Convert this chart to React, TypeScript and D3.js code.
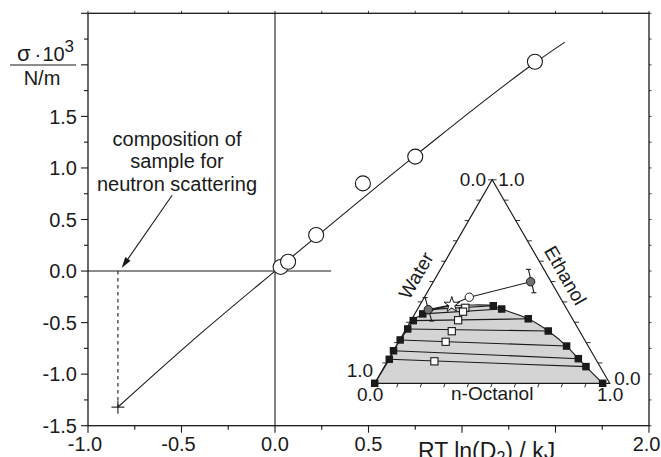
import React from "react";
import * as d3 from "d3";

const W = 661;
const H = 457;
const FONT = "'Liberation Sans', Arial, Helvetica, sans-serif";
const INK = "#1a1a1a";

// ---- main chart data ----
const surfX = [0.03, 0.07, 0.22, 0.47, 0.75, 1.39];
const surfY = [0.04, 0.09, 0.35, 0.85, 1.11, 2.03];
const fitX = [-0.84, -0.4, 0, 0.75, 1.39, 1.55];
const fitY = [-1.32, -0.61, 0, 1.12, 2.02, 2.22];
const sampleX = -0.84;
const sampleY = -1.32;
const xTickVals = [-1, -0.5, 0, 0.5, 2];
const xTickLabels = ["-1.0", "-0.5", "0.0", "0.5", "2.0"];
const yTickVals = [-1.5, -1, -0.5, 0, 0.5, 1, 1.5];
const yTickLabels = ["-1.5", "-1.0", "-0.5", "0.0", "0.5", "1.0", "1.5"];
const annotationLines = ["composition of", "sample for", "neutron scattering"];
const arrowTail = [-0.55, 0.735];
const arrowTip = [-0.82, 0.03];
const zeroLineEnd = 0.3;

// ---- ternary inset data (o = n-octanol fraction, e = ethanol fraction) ----
const leftBranchO = [0, 0.003, 0, 0.002, 0.007, 0.01, 0.034];
const leftBranchE = [0, 0.118, 0.16, 0.213, 0.267, 0.308, 0.341];
const topCurveO = [0.12, 0.22];
const topCurveE = [0.378, 0.385];
const rightBranchO = [0.314, 0.358, 0.495, 0.61, 0.725, 0.806, 0.858, 0.97];
const rightBranchE = [0.381, 0.365, 0.317, 0.257, 0.183, 0.121, 0.082, 0.0];

const tieLeftO = [0.047, 0.034, 0.01, 0.007, 0.002, 0.0, 0.003];
const tieLeftE = [0.362, 0.341, 0.308, 0.267, 0.213, 0.16, 0.118];
const tieRightO = [0.314, 0.358, 0.495, 0.61, 0.725, 0.806, 0.858];
const tieRightE = [0.381, 0.365, 0.317, 0.257, 0.183, 0.121, 0.082];

const feedO = [0.2, 0.2, 0.2, 0.2, 0.2, 0.2];
const feedE = [0.371, 0.352, 0.31, 0.256, 0.204, 0.108];

const greyO = [0.047, 0.414];
const greyE = [0.362, 0.499];
const errTopO = [0.004, 0.374];
const errTopE = [0.421, 0.56];
const errBotO = [0.09, 0.455];
const errBotE = [0.306, 0.445];
const openCircleO = 0.191;
const openCircleE = 0.423;
const starO = 0.135;
const starE = 0.386;
const pathO = [0.414, 0.191, 0.135, 0.047];
const pathE = [0.499, 0.423, 0.386, 0.362];

export default function App() {
  const x = d3.scaleLinear().domain([-1, 2]).range([88, 649]);
  const y = d3.scaleLinear().domain([-1.5, 2.5]).range([425.7, 13.3]);
  const tx = d3.scaleLinear().domain([0, 1]).range([374.7, 609.7]);
  const ty = d3.scaleLinear().domain([0, 1]).range([383.3, 179.8]);
  const P = (o: number, e: number): [number, number] => [tx(o + e / 2), ty(e)];

  const [x0, x1] = x.range();
  const [y0, y1] = y.range();

  const fitLine = d3
    .line<number>()
    .x((_, i) => x(fitX[i]))
    .y((_, i) => y(fitY[i]))
    .curve(d3.curveMonotoneX)(fitX);

  const xMinor = d3.range(-1, 2.001, 0.25);
  const yMinor = d3.range(-1.5, 2.501, 0.25);
  const isMajor = (v: number) => Math.abs(v * 2 - Math.round(v * 2)) < 1e-6;

  // arrow
  const ax0 = x(arrowTail[0]);
  const ay0 = y(arrowTail[1]);
  const ax1 = x(arrowTip[0]);
  const ay1 = y(arrowTip[1]);
  const ang = Math.atan2(ay1 - ay0, ax1 - ax0);
  const hl = 11;
  const hw = 3.2;
  const bx = ax1 - hl * Math.cos(ang);
  const by = ay1 - hl * Math.sin(ang);
  const head = `M${ax1},${ay1}L${bx - hw * Math.sin(ang)},${by + hw * Math.cos(ang)}L${bx + hw * Math.sin(ang)},${by - hw * Math.cos(ang)}Z`;

  // ternary
  const binodalPts: [number, number][] = [
    ...leftBranchO.map((o, i) => P(o, leftBranchE[i])),
    ...topCurveO.map((o, i) => P(o, topCurveE[i])),
    ...rightBranchO.map((o, i) => P(o, rightBranchE[i])),
  ];
  const binodal = d3.line().curve(d3.curveCatmullRom.alpha(0.5))(binodalPts) as string;
  const A = P(0, 1);
  const BL = P(0, 0);
  const BR = P(1, 0);
  const tern = d3.range(0.1, 1.001, 0.1);
  const star = d3.symbol(d3.symbolStar, 75)() as string;
  const pathLine = d3.line()(pathO.map((o, i) => P(o, pathE[i]))) as string;
  const sq = 7.5;

  const waterPos = P(0.0, 0.53);
  const ethPos = P(0.47, 0.53);

  return (
    <svg
      width={W}
      height={H}
      viewBox={`0 0 ${W} ${H}`}
      style={{ position: "absolute", left: 0, top: 0, background: "#fff" }}
      fontFamily={FONT}
    >
      <rect x={0} y={0} width={W} height={H} fill="#fff" />

      {/* zero lines */}
      <line x1={x(0)} x2={x(0)} y1={y1} y2={y0} stroke={INK} strokeWidth={1.1} />
      <line x1={x0} x2={x(zeroLineEnd)} y1={y(0)} y2={y(0)} stroke={INK} strokeWidth={1.1} />

      {/* dotted guide */}
      <line
        x1={x(sampleX)}
        x2={x(sampleX)}
        y1={y(0)}
        y2={y(sampleY)}
        stroke={INK}
        strokeWidth={1.1}
        strokeDasharray="3.5,3.5"
      />

      {/* fit line */}
      <path d={fitLine as string} fill="none" stroke={INK} strokeWidth={1.1} />

      {/* cross */}
      <g stroke={INK} strokeWidth={1.1}>
        <line x1={x(sampleX) - 6.5} x2={x(sampleX) + 6.5} y1={y(sampleY)} y2={y(sampleY)} />
        <line x1={x(sampleX)} x2={x(sampleX)} y1={y(sampleY) - 6.5} y2={y(sampleY) + 6.5} />
      </g>

      {/* data circles */}
      {surfX.map((v, i) => (
        <circle key={i} cx={x(v)} cy={y(surfY[i])} r={7.5} fill="#fff" stroke={INK} strokeWidth={1.1} />
      ))}

      {/* annotation */}
      {annotationLines.map((t, i) => (
        <text key={i} x={177} y={146 + i * 22.3} textAnchor="middle" fontSize={20} fill={INK}>
          {t}
        </text>
      ))}
      <line x1={ax0} y1={ay0} x2={bx} y2={by} stroke={INK} strokeWidth={1.1} />
      <path d={head} fill={INK} />

      {/* frame */}
      <rect x={x0} y={y1} width={x1 - x0} height={y0 - y1} fill="none" stroke={INK} strokeWidth={1.3} />

      {/* bottom ticks */}
      {xMinor.map((v, i) => (
        <line key={"bx" + i} x1={x(v)} x2={x(v)} y1={y0} y2={y0 + (isMajor(v) ? 7 : 4)} stroke={INK} strokeWidth={1.1} />
      ))}
      {/* top ticks */}
      {xMinor.map((v, i) => (
        <line key={"tx" + i} x1={x(v)} x2={x(v)} y1={y1} y2={y1 - 2.5} stroke={INK} strokeWidth={0.8} />
      ))}
      {/* left ticks */}
      {yMinor.map((v, i) => (
        <line key={"ly" + i} x1={x0} x2={x0 - (isMajor(v) ? 7 : 4)} y1={y(v)} y2={y(v)} stroke={INK} strokeWidth={1.1} />
      ))}
      {/* right ticks */}
      {yMinor.map((v, i) => (
        <line key={"ry" + i} x1={x1} x2={x1 + 2.5} y1={y(v)} y2={y(v)} stroke={INK} strokeWidth={0.8} />
      ))}

      {/* tick labels */}
      {xTickVals.map((v, i) => {
        const last = i === xTickVals.length - 1;
        return (
          <text
            key={"xl" + i}
            x={last ? W - 0.5 : x(v) + (v < 0 ? -3 : 0)}
            y={450.5}
            textAnchor={last ? "end" : "middle"}
            fontSize={20}
            fill={INK}
          >
            {xTickLabels[i]}
          </text>
        );
      })}
      {yTickVals.map((v, i) => (
        <text key={"yl" + i} x={77} y={y(v) + 7.2} textAnchor="end" fontSize={20} fill={INK}>
          {yTickLabels[i]}
        </text>
      ))}

      {/* axis titles */}
      <text x={418} y={459} fontSize={23} fill={INK}>
        RT ln(D<tspan fontSize={16} dy={4}>2</tspan>
        <tspan dy={-4}>) / kJ</tspan>
      </text>
      <text fontSize={20} fill={INK} y={61}>
        <tspan x={17} fontSize={22}>σ</tspan>
        <tspan x={34.5}>·</tspan>
        <tspan x={42.5}>10</tspan>
        <tspan x={64.5} dy={-9.5} fontSize={17}>3</tspan>
      </text>
      <line x1={10} x2={76} y1={65} y2={65} stroke={INK} strokeWidth={1.2} />
      <text x={42} y={85} textAnchor="middle" fontSize={20} fill={INK}>
        N/m
      </text>

      {/* ===== ternary inset ===== */}
      <path d={binodal + "Z"} fill="#d4d4d4" stroke="none" />
      {tieLeftO.map((o, i) => {
        const a = P(o, tieLeftE[i]);
        const b = P(tieRightO[i], tieRightE[i]);
        return <line key={"tie" + i} x1={a[0]} y1={a[1]} x2={b[0]} y2={b[1]} stroke={INK} strokeWidth={1.1} />;
      })}
      <path d={binodal} fill="none" stroke={INK} strokeWidth={1.1} />
      <path
        d={`M${BL[0]},${BL[1]}L${BR[0]},${BR[1]}L${A[0]},${A[1]}Z`}
        fill="none"
        stroke={INK}
        strokeWidth={1.2}
      />
      {/* ternary ticks */}
      {tern.slice(0, 9).map((v, i) => {
        const p = P(v, 0);
        return <line key={"tb" + i} x1={p[0]} x2={p[0] - 1.5} y1={p[1]} y2={p[1] + 4} stroke={INK} strokeWidth={0.9} />;
      })}
      {tern.map((v, i) => {
        const p = P(1 - v, v);
        return <line key={"tr" + i} x1={p[0]} x2={p[0] + 4.5} y1={p[1]} y2={p[1]} stroke={INK} strokeWidth={0.9} />;
      })}
      {tern.map((v, i) => {
        const p = P(0, v);
        return <line key={"tl" + i} x1={p[0]} x2={p[0] - 4} y1={p[1]} y2={p[1]} stroke={INK} strokeWidth={0.9} />;
      })}

      {/* connecting path and error bars */}
      <path d={pathLine} fill="none" stroke={INK} strokeWidth={1.1} />
      {greyO.map((o, i) => {
        const t = P(errTopO[i], errTopE[i]);
        const b = P(errBotO[i], errBotE[i]);
        return (
          <g key={"eb" + i} stroke={INK} strokeWidth={1.1}>
            <line x1={t[0]} y1={t[1]} x2={b[0]} y2={b[1]} />
            <line x1={t[0] - 2.5} x2={t[0] + 2.5} y1={t[1]} y2={t[1]} />
            <line x1={b[0] - 2.5} x2={b[0] + 2.5} y1={b[1]} y2={b[1]} />
          </g>
        );
      })}

      {/* binodal squares */}
      {[...leftBranchO.map((o, i) => P(o, leftBranchE[i])), ...rightBranchO.map((o, i) => P(o, rightBranchE[i]))].map(
        (p, i) => (
          <rect key={"fs" + i} x={p[0] - sq / 2} y={p[1] - sq / 2} width={sq} height={sq} fill={INK} />
        )
      )}
      {feedO.map((o, i) => {
        const p = P(o, feedE[i]);
        return (
          <rect
            key={"os" + i}
            x={p[0] - 3.6}
            y={p[1] - 3.6}
            width={7.2}
            height={7.2}
            fill="#fff"
            stroke={INK}
            strokeWidth={1.1}
          />
        );
      })}
      {greyO.map((o, i) => {
        const p = P(o, greyE[i]);
        return <circle key={"gc" + i} cx={p[0]} cy={p[1]} r={4.2} fill="#707070" stroke={INK} strokeWidth={1} />;
      })}
      {(() => {
        const p = P(openCircleO, openCircleE);
        return <circle cx={p[0]} cy={p[1]} r={4.2} fill="#fff" stroke={INK} strokeWidth={1} />;
      })()}
      {(() => {
        const p = P(starO, starE);
        return <path d={star} transform={`translate(${p[0]},${p[1]})`} fill="#fff" stroke={INK} strokeWidth={1} />;
      })()}

      {/* ternary labels */}
      <g fontSize={19} fill={INK}>
        <text x={A[0] - 6} y={A[1] + 6.5} textAnchor="end">0.0</text>
        <text x={A[0] + 6} y={A[1] + 6.5} textAnchor="start">1.0</text>
        <text x={BL[0] - 1.5} y={BL[1] - 6} textAnchor="end">1.0</text>
        <text x={BL[0] - 4.5} y={BL[1] + 18} textAnchor="middle">0.0</text>
        <text x={BR[0] + 0.5} y={BR[1] + 18} textAnchor="middle">1.0</text>
        <text x={BR[0] + 4.5} y={BR[1] + 2} textAnchor="start">0.0</text>
        <text x={(BL[0] + BR[0]) / 2} y={BL[1] + 17} textAnchor="middle">n-Octanol</text>
        <text
          transform={`translate(${waterPos[0] - 21},${waterPos[1]}) rotate(-60)`}
          textAnchor="middle"
          dy="0.35em"
        >
          Water
        </text>
        <text
          transform={`translate(${ethPos[0] + 18},${ethPos[1]}) rotate(60)`}
          textAnchor="middle"
          dy="0.35em"
        >
          Ethanol
        </text>
      </g>
    </svg>
  );
}
